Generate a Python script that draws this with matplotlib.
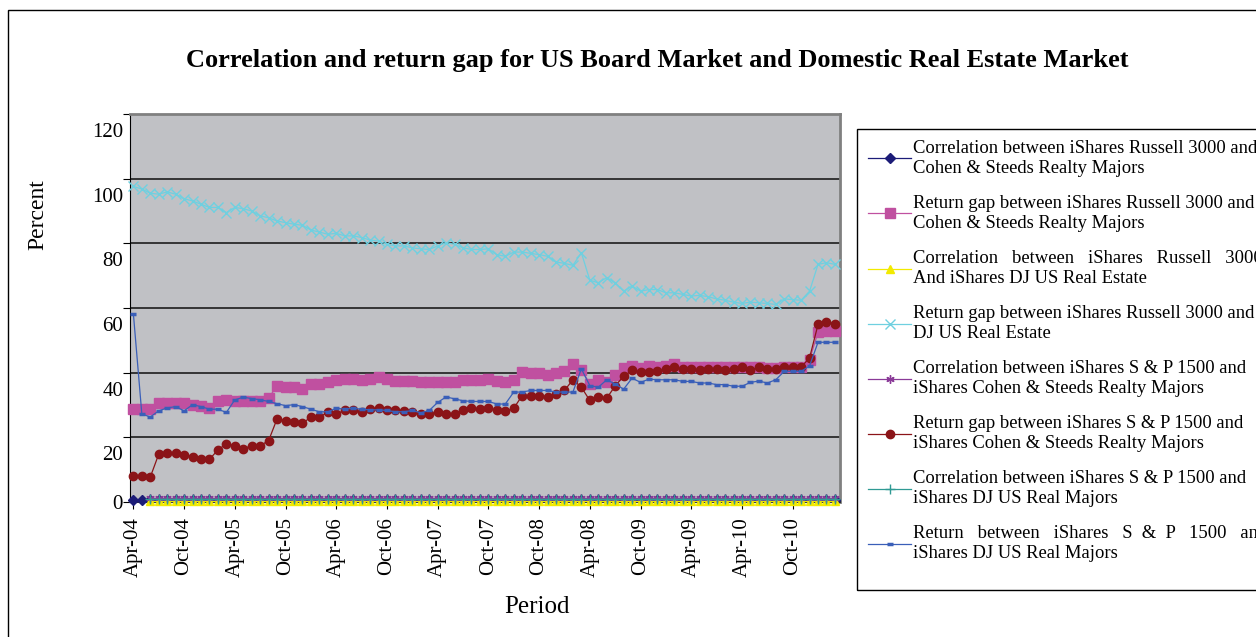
import numpy as np
import matplotlib
matplotlib.use('Agg')
import matplotlib.pyplot as plt
import matplotlib.transforms as mtransforms
from matplotlib.patches import Rectangle

plt.rcParams['font.family'] = ['Liberation Serif', 'DejaVu Serif']

# monthly observations, Apr-04 .. Mar-11
n_months = 84
tick_idx = [0, 6, 12, 18, 24, 30, 36, 42, 48, 54, 60, 66, 72, 78]
tick_labels = ['Apr-04', 'Oct-04', 'Apr-05', 'Oct-05', 'Apr-06', 'Oct-06', 'Apr-07',
               'Oct-07', 'Oct-08', 'Apr-08', 'Oct-09', 'Apr-09', 'Apr-10', 'Oct-10']

# correlations (sit on the zero line)
corr_r3000_cs = [0.6, 0.6, 0.6, 0.6, 0.6, 0.6, 0.6, 0.6, 0.6, 0.6, 0.6, 0.6,
                 0.6, 0.6, 0.6, 0.6, 0.6, 0.6, 0.6, 0.6, 0.6, 0.6, 0.6, 0.6,
                 0.6, 0.6, 0.6, 0.6, 0.6, 0.6, 0.6, 0.6, 0.6, 0.6, 0.6, 0.6,
                 0.6, 0.6, 0.6, 0.6, 0.6, 0.6, 0.6, 0.6, 0.6, 0.6, 0.6, 0.6,
                 0.6, 0.6, 0.6, 0.6, 0.6, 0.6, 0.6, 0.6, 0.6, 0.6, 0.6, 0.6,
                 0.6, 0.6, 0.6, 0.6, 0.6, 0.6, 0.6, 0.6, 0.6, 0.6, 0.6, 0.6,
                 0.6, 0.6, 0.6, 0.6, 0.6, 0.6, 0.6, 0.6, 0.6, 0.6, 0.6, 0.6]
corr_r3000_dj = [None, None, 0.3, 0.3, 0.3, 0.3, 0.3, 0.3, 0.3, 0.3, 0.3, 0.3,
                 0.3, 0.3, 0.3, 0.3, 0.3, 0.3, 0.3, 0.3, 0.3, 0.3, 0.3, 0.3,
                 0.3, 0.3, 0.3, 0.3, 0.3, 0.3, 0.3, 0.3, 0.3, 0.3, 0.3, 0.3,
                 0.3, 0.3, 0.3, 0.3, 0.3, 0.3, 0.3, 0.3, 0.3, 0.3, 0.3, 0.3,
                 0.3, 0.3, 0.3, 0.3, 0.3, 0.3, 0.3, 0.3, 0.3, 0.3, 0.3, 0.3,
                 0.3, 0.3, 0.3, 0.3, 0.3, 0.3, 0.3, 0.3, 0.3, 0.3, 0.3, 0.3,
                 0.3, 0.3, 0.3, 0.3, 0.3, 0.3, 0.3, 0.3, 0.3, 0.3, 0.3, 0.3]
corr_sp_cs = [None, None, 1.3, 1.3, 1.3, 1.3, 1.3, 1.3, 1.3, 1.3, 1.3, 1.3,
              1.3, 1.3, 1.3, 1.3, 1.3, 1.3, 1.3, 1.3, 1.3, 1.3, 1.3, 1.3,
              1.3, 1.3, 1.3, 1.3, 1.3, 1.3, 1.3, 1.3, 1.3, 1.3, 1.3, 1.3,
              1.3, 1.3, 1.3, 1.3, 1.3, 1.3, 1.3, 1.3, 1.3, 1.3, 1.3, 1.3,
              1.3, 1.3, 1.3, 1.3, 1.3, 1.3, 1.3, 1.3, 1.3, 1.3, 1.3, 1.3,
              1.3, 1.3, 1.3, 1.3, 1.3, 1.3, 1.3, 1.3, 1.3, 1.3, 1.3, 1.3,
              1.3, 1.3, 1.3, 1.3, 1.3, 1.3, 1.3, 1.3, 1.3, 1.3, 1.3, 1.3]
corr_sp_dj = [None, None, 0.9, 0.9, 0.9, 0.9, 0.9, 0.9, 0.9, 0.9, 0.9, 0.9,
              0.9, 0.9, 0.9, 0.9, 0.9, 0.9, 0.9, 0.9, 0.9, 0.9, 0.9, 0.9,
              0.9, 0.9, 0.9, 0.9, 0.9, 0.9, 0.9, 0.9, 0.9, 0.9, 0.9, 0.9,
              0.9, 0.9, 0.9, 0.9, 0.9, 0.9, 0.9, 0.9, 0.9, 0.9, 0.9, 0.9,
              0.9, 0.9, 0.9, 0.9, 0.9, 0.9, 0.9, 0.9, 0.9, 0.9, 0.9, 0.9,
              0.9, 0.9, 0.9, 0.9, 0.9, 0.9, 0.9, 0.9, 0.9, 0.9, 0.9, 0.9,
              0.9, 0.9, 0.9, 0.9, 0.9, 0.9, 0.9, 0.9, 0.9, 0.9, 0.9, 0.9]

# return gaps
gap_r3000_cs = [28.7, 28.7, 28.7, 30.6, 30.6, 30.6, 30.6, 30.1, 29.6, 29.1, 31.1, 31.6,
                31.1, 31.1, 31.1, 31.1, 32.1, 36.0, 35.6, 35.6, 34.9, 36.5, 36.5, 37.0,
                37.6, 38.0, 38.0, 37.6, 38.0, 38.6, 38.0, 37.3, 37.3, 37.3, 37.0, 37.0,
                37.0, 37.0, 37.0, 37.6, 37.6, 37.6, 38.0, 37.3, 37.0, 37.6, 40.2, 39.9,
                39.9, 39.4, 39.9, 40.4, 42.8, 40.9, 36.6, 37.6, 37.0, 39.4, 41.4, 42.0,
                41.4, 42.0, 41.6, 42.2, 42.6, 41.9, 41.9, 41.6, 41.9, 41.9, 41.6, 41.9,
                41.6, 41.6, 41.9, 41.3, 41.3, 41.9, 41.9, 41.9, 44.0, 52.5, 52.8, 52.8]
gap_r3000_dj = [97.6, 96.8, 95.5, 95.2, 95.9, 95.2, 93.8, 93.1, 92.1, 91.1, 91.1, 89.5,
                91.1, 90.7, 90.0, 88.5, 87.9, 86.9, 86.4, 85.9, 85.6, 84.1, 83.5, 82.8,
                83.1, 82.3, 82.3, 81.8, 81.0, 80.7, 79.7, 79.2, 79.2, 78.6, 78.3, 78.1,
                79.2, 80.2, 79.7, 78.6, 78.1, 78.1, 78.3, 76.5, 76.0, 77.3, 77.3, 76.9,
                76.5, 76.0, 74.2, 73.8, 73.2, 77.1, 68.6, 67.8, 69.4, 67.8, 65.2, 66.8,
                65.2, 65.7, 65.7, 64.7, 64.7, 64.2, 63.7, 63.9, 63.5, 62.8, 62.4, 61.8,
                61.4, 61.8, 61.6, 61.4, 61.1, 62.8, 62.6, 62.4, 65.2, 73.5, 74.0, 73.5]
gap_sp_cs = [8.1, 8.1, 7.7, 14.8, 15.1, 15.1, 14.6, 14.0, 13.2, 13.2, 16.1, 18.0,
             17.4, 16.5, 17.4, 17.4, 19.0, 25.7, 25.2, 24.6, 24.3, 26.3, 26.3, 27.7,
             27.3, 28.3, 28.3, 27.7, 28.7, 29.1, 28.5, 28.3, 28.1, 27.7, 27.3, 27.3,
             27.7, 27.3, 27.3, 28.3, 29.0, 28.7, 29.0, 28.5, 28.0, 29.0, 32.9, 32.9,
             32.9, 32.5, 33.5, 34.5, 37.8, 35.5, 31.4, 32.5, 32.1, 35.9, 38.9, 40.7,
             40.2, 40.2, 40.4, 41.1, 41.7, 41.1, 41.1, 40.7, 41.1, 41.1, 40.7, 41.1,
             41.7, 40.7, 41.7, 41.1, 41.1, 41.7, 41.7, 41.7, 44.6, 54.9, 55.6, 55.2]
gap_sp_dj = [58.2, 27.2, 26.3, 28.2, 29.1, 29.5, 28.2, 30.1, 29.5, 28.7, 28.7, 27.7,
             31.6, 32.4, 32.0, 31.6, 31.1, 30.4, 29.8, 30.1, 29.5, 28.7, 27.9, 27.9,
             29.0, 28.7, 29.0, 28.7, 28.5, 28.5, 28.3, 27.9, 27.9, 28.3, 27.6, 28.3,
             30.8, 32.5, 31.9, 31.3, 31.1, 31.1, 31.1, 30.3, 30.3, 34.0, 34.0, 34.5,
             34.5, 34.5, 34.0, 34.0, 34.0, 41.2, 36.0, 35.5, 37.8, 36.5, 34.9, 38.3,
             37.0, 38.0, 37.8, 37.8, 37.8, 37.3, 37.3, 36.8, 36.8, 36.3, 36.3, 35.8,
             35.8, 37.0, 37.4, 36.8, 37.8, 40.4, 40.4, 40.4, 42.1, 49.4, 49.4, 49.4]

labels = [
    'Correlation between iShares Russell 3000 and\nCohen & Steeds Realty Majors',
    'Return gap between iShares Russell 3000 and\nCohen & Steeds Realty Majors',
    'Correlation   between   iShares   Russell   3000\nAnd iShares DJ US Real Estate',
    'Return gap between iShares Russell 3000 and\nDJ US Real Estate',
    'Correlation between iShares S & P 1500 and\niShares Cohen & Steeds Realty Majors',
    'Return gap between iShares S & P 1500 and\niShares Cohen & Steeds Realty Majors',
    'Correlation between iShares S & P 1500 and\niShares DJ US Real Majors',
    'Return   between   iShares   S  &  P   1500   and\niShares DJ US Real Majors',
]

W, H = 1256, 637
fig = plt.figure(figsize=(W / 100, H / 100), dpi=100)
ax = fig.add_axes([130 / W, 1 - 502 / H, 710 / W, 388 / H])
ax.set_facecolor('#c0c1c5')

x = np.arange(n_months)
def arr(v):
    return np.array([np.nan if a is None else a for a in v], dtype=float)

styles = [
    (corr_r3000_cs, dict(color='#1c1c78', marker='D', ms=5)),
    (gap_r3000_cs, dict(color='#c050a0', marker='s', ms=6.5)),
    (corr_r3000_dj, dict(color='#f2ea00', marker='^', ms=6)),
    (gap_r3000_dj, dict(color='#6fd0e0', marker='x', ms=7.5, mew=1)),
    (corr_sp_cs, dict(color='#8a3a98', marker=(6, 2, 0), ms=6, mew=1)),
    (gap_sp_cs, dict(color='#8b1418', marker='o', ms=6)),
    (corr_sp_dj, dict(color='#2f9a94', marker='+', ms=7, mew=1)),
    (gap_sp_dj, dict(color='#3a5fb8', marker='_', ms=4, mew=2.5)),
]
handles = []
for i, (vals, st) in enumerate(styles):
    ln, = ax.plot(x, arr(vals), lw=0.9, zorder=3 + i, clip_on=False, **st)
    handles.append(ln)

ax.set_xlim(-0.4, 83.6)
ax.set_ylim(0, 120)
ax.set_yticks([0, 20, 40, 60, 80, 100, 120])
ax.grid(axis='y', color='#2a2a2a', lw=1.3, zorder=1)
ax.set_axisbelow(True)
ax.set_xticks(tick_idx)
ax.set_xticklabels(tick_labels, rotation=90, fontsize=15)
ax.tick_params(axis='y', labelsize=15, direction='out', length=5, pad=0)
ax.tick_params(axis='x', direction='out', length=5, pad=6)

# labels in the original sit a bit below their grid lines
offset = mtransforms.ScaledTranslation(0, -0.16, fig.dpi_scale_trans)
for lab in ax.get_yticklabels()[1:]:
    lab.set_transform(lab.get_transform() + offset)

for side in ['top', 'right']:
    ax.spines[side].set_color('#808080')
    ax.spines[side].set_linewidth(2)
ax.spines['left'].set_color('black')
ax.spines['bottom'].set_color('#303030')
ax.spines['bottom'].set_linewidth(1.5)

fig.text(657 / W, 1 - 60 / H,
         'Correlation and return gap for US Board Market and Domestic Real Estate Market',
         ha='center', va='center', fontsize=19, fontweight='bold')
fig.text(38 / W, 1 - 215 / H, 'Percent', rotation=90, ha='center', va='center', fontsize=17)
fig.text(537 / W, 1 - 607 / H, 'Period', ha='center', va='center', fontsize=18)

leg = fig.legend(handles, labels, loc='upper left', bbox_to_anchor=(857 / W, 1 - 129 / H),
                 borderaxespad=0, fontsize=13.4, frameon=False,
                 borderpad=0.6, labelspacing=0.99,
                 handlelength=2.3, handletextpad=0.1)

# legend box drawn separately, it runs past the right edge
fig.patches.append(Rectangle((857 / W, 1 - 590 / H), 0.5, 461 / H,
                             transform=fig.transFigure, fill=False, ec='black', lw=1))

# outer frame of the chart area
fig.patches.append(Rectangle((8 / W, -0.1), 1.2, 1.1 - 10 / H,
                             transform=fig.transFigure, fill=False, ec='black', lw=1))

fig.savefig('out.png', dpi=100)
